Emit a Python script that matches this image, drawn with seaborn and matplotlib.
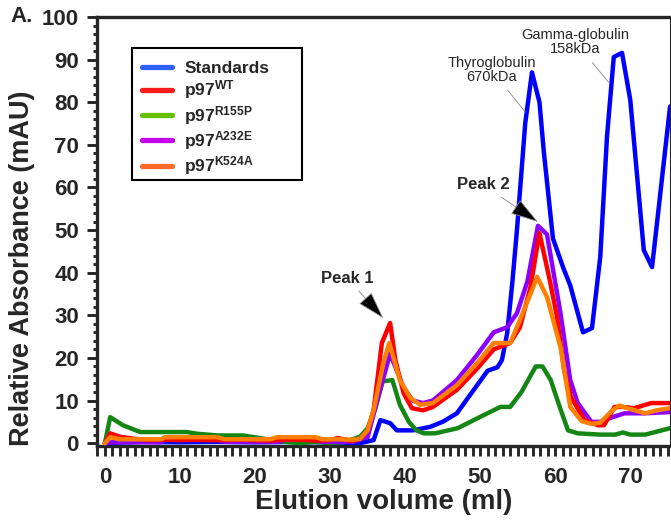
import pandas as pd
import matplotlib
matplotlib.use("Agg")
import matplotlib.pyplot as plt
from matplotlib.lines import Line2D
from matplotlib.patches import Rectangle
from matplotlib.ticker import MultipleLocator
import seaborn as sns

# -----------------------------
# data (ml, mAU)
# -----------------------------
std_x = [0, 5, 10, 15, 20, 25, 30, 34, 35.8, 36.7, 38, 38.9, 41, 43.3, 45, 46.9, 49.1, 51, 52.3,
         52.9, 53.6, 54.3, 54.9, 56, 56.9, 57.9, 58.5, 59.7, 61.1, 62, 63.7, 64.9, 66, 66.9, 67.8,
         68.9, 70, 71.8, 72.9, 75.3]
std_y = [0, 0.3, 0.2, 0.3, 0.2, 0.3, 0.2, 0, 0.7, 5.4, 4.7, 3, 3, 3.8, 5, 7, 12.4, 17, 17.8,
         19.5, 25.8, 38, 50, 75, 87, 80, 68, 48, 41, 37, 26, 27, 43.7, 72, 90.6,
         91.6, 80.5, 45.3, 41.3, 79]

wt_x = [0, 0.7, 2, 4, 6, 8, 10, 12, 14, 16, 18, 20, 22, 24, 26, 28, 30, 31, 32, 33, 34, 35,
        35.8, 36.9, 38, 38.7, 39.8, 40.9, 42.4, 43.7, 46.9, 49.6, 51.8, 54, 55.3, 56.7, 57.9,
        59.3, 60.2, 61.2, 62.1, 63.9, 65.7, 66.5, 67.9, 69, 70.5, 72.8, 75.3]
wt_y = [0, 2.3, 1.5, 1, 0.7, 0.8, 0.7, 0.8, 0.7, 0.7, 0.8, 0.7, 0.6, 0.8, 0.8, 0.6, 0.7, 1.2,
        0.8, 0.5, 1, 3, 7.7, 23.5, 28.2, 19.5, 11.7, 8.2, 7.7, 8.5, 12.5, 17.5, 22, 23.5, 27.2,
        36.6, 49.3, 38, 30, 17, 10.8, 5.4, 4.2, 4.2, 8.5, 8.5, 8.2, 9.4, 9.4]

r155p_x = [0, 0.7, 2.4, 4.7, 10.9, 12.3, 15, 18.4, 20.2, 22, 24, 26, 28, 30, 32, 34, 35, 36, 37,
           38.3, 39.3, 40.5, 41.5, 42.5, 44, 47, 50.5, 52.7, 54, 55.5, 57.4, 58.3, 59.4, 60.5,
           61.7, 63, 66, 68, 69, 70, 72, 75.3]
r155p_y = [0, 6.1, 4.2, 2.6, 2.6, 2.2, 1.8, 1.8, 1.3, 0.8, 0.3, 0, 0.3, 0, 0.3, 1.5, 3.5, 8, 14.5,
           14.8, 9, 5, 3, 2.3, 2.3, 3.5, 6.6, 8.5, 8.5, 12, 18, 18, 14.8, 9,
           3, 2.3, 2, 2, 2.5, 2, 2, 3.5]

a232e_x = [0, 1, 7.5, 8, 15, 16, 23, 24, 28, 29, 33, 35, 36.4, 38, 39.8, 41, 42.4, 43.7, 46.9,
           49.5, 51.8, 53.6, 54.9, 56.3, 57.7, 58.9, 60.7, 62, 63, 64.8, 66, 67.5, 69.2, 72, 75.3]
a232e_y = [0, 0.2, 0.2, 0.8, 0.8, 0.3, 0.3, 0.8, 0.8, 0.3, 0.3, 1.4, 10.8, 21, 13, 10, 9.4, 10,
           14.8, 20.5, 26, 27.2, 30.5, 38, 51, 49, 30.5, 14.8, 9.4, 5, 5, 6, 7, 7, 7.3]

k524a_x = [0, 0.7, 2, 7.5, 8, 15, 16, 22, 23, 28, 29, 31, 33, 34, 35, 35.8, 37.1, 37.9, 39.3,
           40.7, 42, 43.7, 46.9, 49.6, 51.8, 54, 55.3, 57.6, 58.9, 60.7, 62, 63.5, 64.8, 66,
           67.5, 68.5, 70, 72, 73.5, 75.3]
k524a_y = [0, 1.4, 0.9, 0.9, 1.4, 1.4, 0.9, 0.9, 1.4, 1.4, 0.9, 0.9, 0.8, 1, 3, 7.7, 18.8, 23.5,
           14.8, 10.6, 9, 9.4, 13.6, 18.8, 23.5, 23.5, 28.9, 39, 34.3, 22.5, 8.5, 5.2, 4.5, 4.8,
           7.5, 8.8, 8, 7, 7.7, 8.2]

series = ["Standards", "p97WT", "p97R155P", "p97A232E", "p97K524A"]
legend_labels = ["Standards", r"p97$^{WT}$", r"p97$^{R155P}$", r"p97$^{A232E}$", r"p97$^{K524A}$"]
line_colors = ["#0000ff", "#ff0000", "#138613", "#8c00ff", "#ff8000"]
legend_colors = ["#2f62ff", "#ff1a1a", "#66bf00", "#c400e8", "#ff6a2a"]
draw_order = ["Standards", "p97R155P", "p97A232E", "p97WT", "p97K524A"]

parts = [
    pd.DataFrame({"ml": std_x, "mAU": std_y, "sample": "Standards"}),
    pd.DataFrame({"ml": wt_x, "mAU": wt_y, "sample": "p97WT"}),
    pd.DataFrame({"ml": r155p_x, "mAU": r155p_y, "sample": "p97R155P"}),
    pd.DataFrame({"ml": a232e_x, "mAU": a232e_y, "sample": "p97A232E"}),
    pd.DataFrame({"ml": k524a_x, "mAU": k524a_y, "sample": "p97K524A"}),
]
df = pd.concat(parts, ignore_index=True)

# -----------------------------
# style
# -----------------------------
sns.set_style("ticks")
plt.rcParams["font.family"] = ["Liberation Sans", "DejaVu Sans"]
plt.rcParams["mathtext.fontset"] = "custom"
plt.rcParams["mathtext.rm"] = "Liberation Sans:bold"
plt.rcParams["mathtext.it"] = "Liberation Sans:bold"
plt.rcParams["mathtext.bf"] = "Liberation Sans:bold"

fig = plt.figure(figsize=(6.71, 5.23), dpi=100)
ax = fig.add_axes([0.1446, 0.147, 0.854, 0.8205])

sns.lineplot(data=df, x="ml", y="mAU", hue="sample", hue_order=draw_order,
             palette=dict(zip(series, line_colors)), sort=False, estimator=None,
             linewidth=3.2, legend=False, ax=ax, zorder=3)

ax.set_xlim(-1.05, 75.3)
ax.set_ylim(-0.7, 100)
ax.xaxis.set_major_locator(MultipleLocator(10))
ax.xaxis.set_minor_locator(MultipleLocator(1))
ax.yaxis.set_major_locator(MultipleLocator(10))
ax.yaxis.set_minor_locator(MultipleLocator(2))
ax.tick_params(axis="x", which="both", direction="out", length=7, width=2.1, pad=8)
ax.tick_params(axis="y", which="major", direction="out", length=7, width=2.1, pad=6)
ax.tick_params(axis="y", which="minor", direction="out", length=3, width=2.1)
for lab in ax.get_xticklabels() + ax.get_yticklabels():
    lab.set_fontsize(16)
    lab.set_fontweight("bold")

ax.spines["top"].set_linewidth(2.4)
ax.spines["left"].set_linewidth(2.4)
ax.spines["bottom"].set_linewidth(2.4)
ax.spines["right"].set_visible(True)
ax.spines["right"].set_linewidth(0.8)

ax.set_xlabel("Elution volume (ml)", fontsize=20, fontweight="bold", labelpad=1)
ax.set_ylabel("Relative Absorbance (mAU)", fontsize=19.5, fontweight="bold")
ax.yaxis.set_label_coords(-0.108, 0.415)
fig.text(0.016, 0.969, "A.", fontsize=16, fontweight="bold", va="center", ha="left")

# legend: entries without frame, box drawn separately (wider than the text)
handles = [Line2D([0], [0], color=c, lw=3.8) for c in legend_colors]
leg = ax.legend(handles, legend_labels, loc="upper left", bbox_to_anchor=(0.061, 0.922),
                frameon=False, prop={"weight": "bold", "size": 12.5},
                handlelength=1.7, handletextpad=0.7, labelspacing=0.14, borderpad=0.6,
                borderaxespad=0)
ax.add_patch(Rectangle((0.061, 0.620), 0.297, 0.308, transform=ax.transAxes,
                       fill=False, edgecolor="black", lw=1.5, zorder=4))

# annotations
head = dict(arrowstyle="-|>,head_length=1.5,head_width=0.45", fc="black", ec="#888888",
            lw=0.6, shrinkA=2, shrinkB=0)
ax.annotate("Peak 1", xy=(37.1, 29.3), xytext=(32.3, 38.7), fontsize=12, fontweight="bold",
            ha="center", va="center", arrowprops=head)
ax.annotate("Peak 2", xy=(57.7, 51.9), xytext=(50.4, 60.6), fontsize=12, fontweight="bold",
            ha="center", va="center", arrowprops=head)
thin = dict(arrowstyle="-", color="#888888", lw=0.6, shrinkA=3, shrinkB=0)
ax.annotate("Thyroglobulin\n670kDa", xy=(56.0, 77.7), xytext=(51.5, 87.6), fontsize=10.5,
            ha="center", va="center", linespacing=1.0, arrowprops=thin)
ax.annotate("Gamma-globulin\n158kDa", xy=(67.1, 84.7), xytext=(62.7, 94.1), fontsize=10.5,
            ha="center", va="center", linespacing=1.0, arrowprops=thin)

fig.savefig("out.png", dpi=100)
